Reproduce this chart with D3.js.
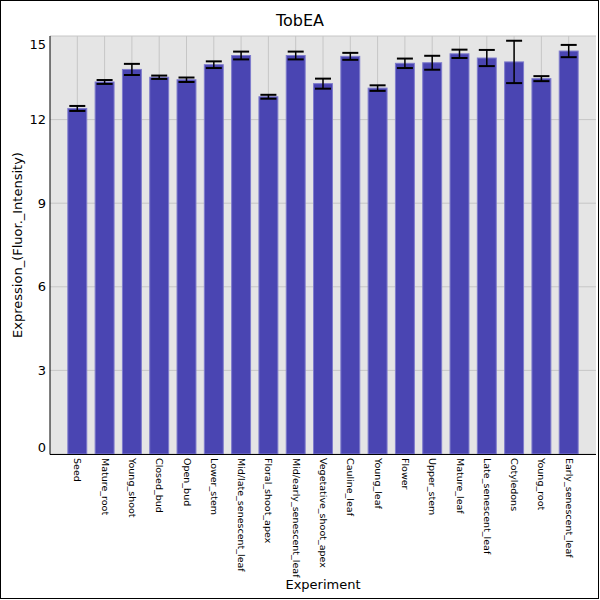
<!DOCTYPE html>
<html>
<head>
<meta charset="utf-8">
<script src="https://cdn.jsdelivr.net/npm/d3@7"></script>
<style>
  body { margin: 0; background: #fff; }
  text { font-family: "DejaVu Sans", sans-serif; fill: #000; }
</style>
</head>
<body>
<svg id="chart" width="600" height="600"></svg>
<script>
// values
const experiments = [
    'Seed', 'Mature_root', 'Young_shoot', 'Closed_bud', 'Open_bud', 'Lower_stem',
    'Mid/late_senescent_leaf', 'Floral_shoot_apex', 'Mid/early_senescent_leaf',
    'Vegetative_shoot_apex', 'Cauline_leaf', 'Young_leaf', 'Flower', 'Upper_stem',
    'Mature_leaf', 'Late_senescent_leaf', 'Cotyledons', 'Young_root', 'Early_senescent_leaf'
]
const expression = [12.40, 13.35, 13.80, 13.52, 13.43, 13.97, 14.30, 12.82, 14.30,
    13.29, 14.27, 13.13, 14.02, 14.04, 14.36, 14.21, 14.07, 13.47, 14.46]
const errors = [0.09, 0.07, 0.20, 0.06, 0.08, 0.12, 0.14, 0.07, 0.14,
    0.18, 0.125, 0.10, 0.17, 0.25, 0.15, 0.29, 0.76, 0.09, 0.22]
const yTicks = [0, 3, 6, 9, 12, 15]

const data = experiments.map((name, i) => ({
    name,
    value: expression[i],
    err: errors[i]
}))

const svg = d3.select('#chart')
const plotLeft = 50, plotRight = 596, plotTop = 36, plotBottom = 454

// outer frame
svg.append('rect')
    .attr('x', 0.5).attr('y', 0.5)
    .attr('width', 598).attr('height', 598)
    .attr('fill', '#fff')
    .attr('stroke', '#000')

const x = d3.scaleBand()
    .domain(experiments)
    .range([plotLeft, plotRight])
    .paddingInner(0.27)
    .paddingOuter(0.635)

const y = d3.scaleLinear()
    .domain([0, 15])
    .range([plotBottom, plotTop])

svg.append('rect')
    .attr('x', plotLeft).attr('y', plotTop)
    .attr('width', plotRight - plotLeft).attr('height', plotBottom - plotTop)
    .attr('fill', '#e5e5e5')

// grid
svg.append('g')
    .selectAll('line')
    .data(yTicks)
    .join('line')
    .attr('x1', plotLeft).attr('x2', plotRight)
    .attr('y1', d => y(d)).attr('y2', d => y(d))
    .attr('stroke', '#c6c6c6')

svg.append('g')
    .selectAll('line')
    .data(experiments)
    .join('line')
    .attr('x1', d => x(d) + x.bandwidth() / 2)
    .attr('x2', d => x(d) + x.bandwidth() / 2)
    .attr('y1', plotTop).attr('y2', plotBottom)
    .attr('stroke', '#c6c6c6')

// bars
svg.append('g')
    .selectAll('rect')
    .data(data)
    .join('rect')
    .attr('x', d => x(d.name) + 0.5)
    .attr('y', d => y(d.value))
    .attr('width', x.bandwidth() - 1)
    .attr('height', d => plotBottom - y(d.value))
    .attr('fill', '#4a45b2')
    .attr('stroke', '#7e7bcc')
    .attr('stroke-width', 1)

// error bars
const eb = svg.append('g')
    .selectAll('g')
    .data(data)
    .join('g')
    .attr('transform', d => `translate(${x(d.name) + x.bandwidth() / 2},0)`)

eb.append('line')
    .attr('y1', d => y(d.value + d.err))
    .attr('y2', d => y(d.value - d.err))
    .attr('stroke', '#000')
    .attr('stroke-width', 1.5)

eb.selectAll('line.cap')
    .data(d => [d.value + d.err, d.value - d.err])
    .join('line')
    .attr('class', 'cap')
    .attr('x1', -8).attr('x2', 8)
    .attr('y1', d => y(d)).attr('y2', d => y(d))
    .attr('stroke', '#000')
    .attr('stroke-width', 2)

// axis lines
svg.append('line')
    .attr('x1', plotLeft).attr('x2', plotLeft)
    .attr('y1', plotTop).attr('y2', plotBottom + 0.5)
    .attr('stroke', '#000')
svg.append('line')
    .attr('x1', plotLeft).attr('x2', plotRight)
    .attr('y1', plotBottom + 0.5).attr('y2', plotBottom + 0.5)
    .attr('stroke', '#000')

// y tick labels, end labels kept inside the plot
svg.append('g')
    .selectAll('text')
    .data(yTicks)
    .join('text')
    .attr('x', plotLeft - 4)
    .attr('y', d => d === 15 ? y(d) + 8 : d === 0 ? y(d) - 7 : y(d))
    .attr('text-anchor', 'end')
    .attr('dominant-baseline', 'central')
    .style('font-size', '13px')
    .text(d => d)

// x tick labels
svg.append('g')
    .selectAll('text')
    .data(experiments)
    .join('text')
    .attr('transform', d => `translate(${x(d) + x.bandwidth() / 2 - 3},${plotBottom + 4})rotate(90)`)
    .attr('text-anchor', 'start')
    .style('font-size', '9.5px')
    .text(d => d)

svg.append('text')
    .attr('x', 300).attr('y', 26)
    .attr('text-anchor', 'middle')
    .style('font-size', '16px')
    .text('TobEA')

svg.append('text')
    .attr('x', (plotLeft + plotRight) / 2).attr('y', 589)
    .attr('text-anchor', 'middle')
    .style('font-size', '13px')
    .text('Experiment')

svg.append('text')
    .attr('transform', `translate(22,${(plotTop + plotBottom) / 2})rotate(-90)`)
    .attr('text-anchor', 'middle')
    .style('font-size', '13px')
    .text('Expression_(Fluor._Intensity)')
</script>
</body>
</html>
